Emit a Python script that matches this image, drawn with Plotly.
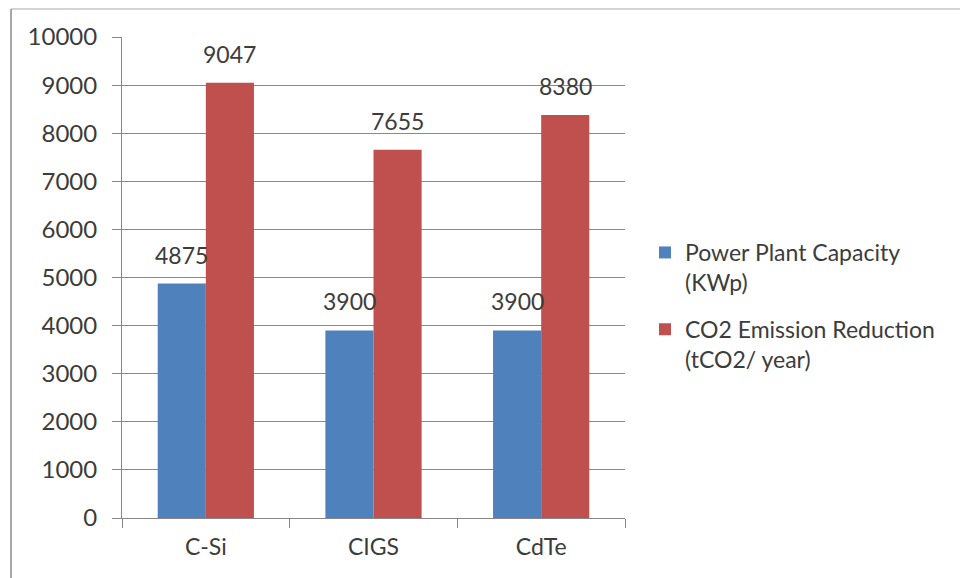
import plotly.graph_objects as go

# Categories and series values
technologies = ["C-Si", "CIGS", "CdTe"]
capacity_kwp = [4875, 3900, 3900]
co2_reduction = [9047, 7655, 8380]
series_names = ["Power Plant Capacity<br>(KWp)", "CO2 Emission Reduction<br>(tCO2/ year)"]
y_ticks = [0, 1000, 2000, 3000, 4000, 5000, 6000, 7000, 8000, 9000, 10000]
y_tick_text = [str(v) for v in y_ticks]

BLUE = "#4F81BD"
RED = "#C0504D"
TEXT = "#3c3c3c"
FONT = "Lato, 'Open Sans', sans-serif"

W, H = 960, 578
L, R, T, B = 122, 335, 37, 60
plot_w = W - L - R
plot_h = H - T - B

bar_w = 0.287

fig = go.Figure()
fig.add_trace(go.Bar(
    x=technologies, y=capacity_kwp, name=series_names[0],
    marker=dict(color=BLUE, line=dict(width=0)),
    width=bar_w, offset=-bar_w, legendgroup="cap",
))
fig.add_trace(go.Bar(
    x=technologies, y=co2_reduction, name=series_names[1],
    marker=dict(color=RED, line=dict(width=0)),
    width=bar_w, offset=0, legendgroup="co2",
))

# Value labels above each bar
annotations = []
for i, (a, b) in enumerate(zip(capacity_kwp, co2_reduction)):
    for val, dx in ((a, -bar_w / 2), (b, bar_w / 2)):
        annotations.append(dict(
            x=i + dx, y=val, xref="x", yref="y", text=str(val),
            showarrow=False, yanchor="bottom", yshift=13,
            font=dict(family=FONT, size=23, color=TEXT),
        ))


def px_x(p):
    return (p - L) / plot_w


def px_y(p):
    return (H - B - p) / plot_h


# Outer chart frame (top and left edges)
shapes = [
    dict(type="line", xref="paper", yref="paper",
         x0=px_x(11), x1=px_x(W + 5), y0=px_y(9), y1=px_y(9),
         line=dict(color="#d4d4d4", width=2)),
    dict(type="line", xref="paper", yref="paper",
         x0=px_x(11), x1=px_x(11), y0=px_y(9), y1=px_y(H + 5),
         line=dict(color="#a8a8a8", width=2)),
]

fig.update_layout(
    width=W, height=H,
    margin=dict(l=L, r=R, t=T, b=B),
    paper_bgcolor="white", plot_bgcolor="white",
    barmode="group",
    font=dict(family=FONT, size=23, color=TEXT),
    showlegend=True,
    legend=dict(
        x=px_x(645), y=px_y(231), xanchor="left", yanchor="top",
        font=dict(family=FONT, size=23, color=TEXT),
        valign="top", itemwidth=30, tracegroupgap=14,
        bgcolor="rgba(0,0,0,0)",
    ),
    annotations=annotations,
    shapes=shapes,
    xaxis=dict(
        type="category", tickson="boundaries",
        ticks="outside", ticklen=9, tickcolor="#868686", tickwidth=1,
        showline=True, linecolor="#868686", linewidth=1,
        showgrid=False, tickfont=dict(family=FONT, size=23, color=TEXT),
        ticklabelstandoff=8,
    ),
    yaxis=dict(
        range=[0, 10000], tickvals=y_ticks, ticktext=y_tick_text,
        ticks="outside", ticklen=9, tickcolor="#868686", tickwidth=1,
        showline=True, linecolor="#868686", linewidth=1,
        showgrid=True, gridcolor="#8a8a8a", gridwidth=1,
        zeroline=False,
        tickfont=dict(family=FONT, size=24, color=TEXT),
        ticklabelstandoff=10,
    ),
)

fig.write_html("out.html")
